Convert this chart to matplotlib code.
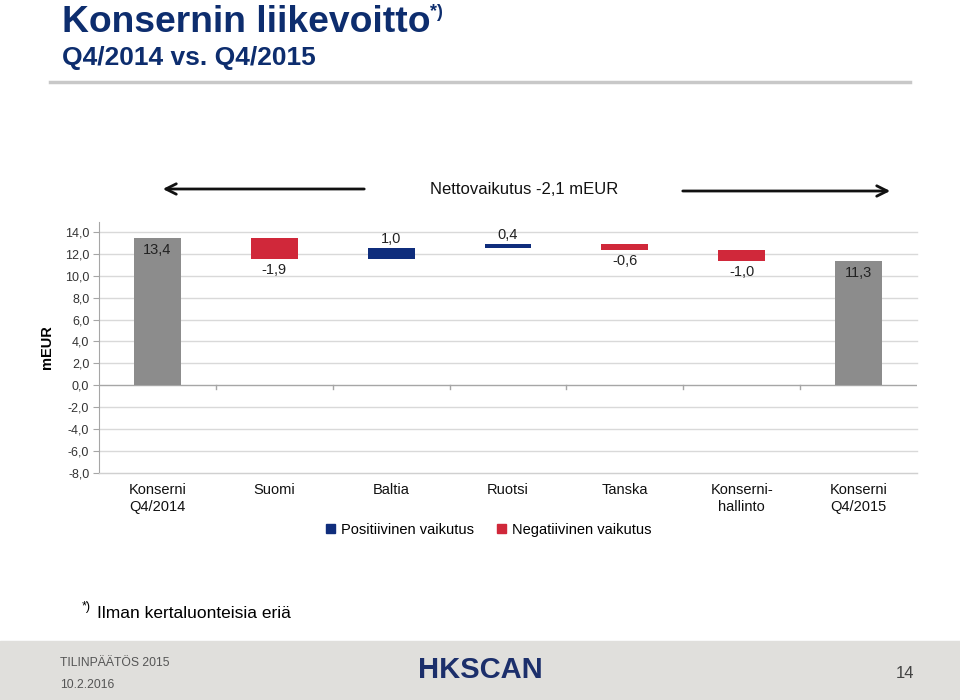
import matplotlib
matplotlib.use("Agg")
import matplotlib.pyplot as plt
from matplotlib.patches import Patch, Rectangle

plt.rcParams['font.family'] = ['Liberation Sans', 'DejaVu Sans']

# Data
categories = ['Konserni\nQ4/2014', 'Suomi', 'Baltia', 'Ruotsi', 'Tanska',
              'Konserni-\nhallinto', 'Konserni\nQ4/2015']
start_value = 13.4
changes = [-1.9, 1.0, 0.4, -0.6, -1.0]
end_value = 11.3
y_ticks = [-8, -6, -4, -2, 0, 2, 4, 6, 8, 10, 12, 14]

navy = '#0f2d7c'
red = '#d0283a'
grey = '#8c8c8c'
title_col = '#0d2d6e'

fig = plt.figure(figsize=(9.6, 7), dpi=100)

# Otsikot
fig.text(62 / 960, 1 - 32 / 700, 'Konsernin liikevoitto', fontsize=26.8, fontweight='bold',
         color=title_col, va='baseline', ha='left')
fig.text(430 / 960, 1 - 17 / 700, '*)', fontsize=13, fontweight='bold',
         color=title_col, va='baseline', ha='left')
fig.text(62 / 960, 1 - 65 / 700, 'Q4/2014 vs. Q4/2015', fontsize=19, fontweight='bold',
         color=title_col, va='baseline', ha='left')
fig.add_artist(plt.Line2D([50 / 960, 910 / 960], [1 - 82 / 700, 1 - 82 / 700],
                          color='#c8c8c8', lw=2.5))

# Nettovaikutus ja nuolet
fig.text(524 / 960, 1 - 190 / 700, 'Nettovaikutus -2,1 mEUR', fontsize=12,
         ha='center', va='center', color='#111111')
fig.add_artist(matplotlib.patches.FancyArrowPatch(
    (367 / 960, 1 - 189 / 700), (160 / 960, 1 - 189 / 700), transform=fig.transFigure,
    arrowstyle='->,head_length=5,head_width=2.5', mutation_scale=1.5, color='#111111', lw=2))
fig.add_artist(matplotlib.patches.FancyArrowPatch(
    (680 / 960, 1 - 191 / 700), (893 / 960, 1 - 191 / 700), transform=fig.transFigure,
    arrowstyle='->,head_length=5,head_width=2.5', mutation_scale=1.5, color='#111111', lw=2))

# Vesiputouskaavio
ax = fig.add_axes([99 / 960, 1 - 473 / 700, 818 / 960, (473 - 222) / 700])

bottoms = [0]
heights = [start_value]
colors = [grey]
level = start_value
for c in changes:
    new_level = level + c
    bottoms.append(min(level, new_level))
    heights.append(abs(c))
    colors.append(navy if c > 0 else red)
    level = new_level
bottoms.append(0)
heights.append(end_value)
colors.append(grey)

x = range(len(categories))
ax.bar(x, heights, bottom=bottoms, width=0.4, color=colors, zorder=3)

values = [start_value] + changes + [end_value]
for i, v in enumerate(values):
    txt = f'{v:.1f}'.replace('.', ',')
    top = bottoms[i] + heights[i]
    if i == 0 or i == len(values) - 1:
        ax.text(i, top - 0.45, txt, ha='center', va='top', fontsize=10.5, color='#222222', zorder=4)
    elif v > 0:
        ax.text(i, top + 0.2, txt, ha='center', va='bottom', fontsize=10.5, color='#222222')
    else:
        ax.text(i, bottoms[i] - 0.35, txt, ha='center', va='top', fontsize=10.5, color='#222222')

ax.set_xlim(-0.5, len(categories) - 0.5)
ax.set_ylim(-8, 14.9)
ax.set_yticks(y_ticks)
ax.set_yticklabels([f'{t:.1f}'.replace('.', ',') for t in y_ticks], fontsize=9, color='#333333')
for t in y_ticks:
    if t != 0:
        ax.axhline(t, color='#d9d9d9', lw=1, zorder=1, clip_on=False)
ax.axhline(0, color='#a6a6a6', lw=1, zorder=2)
for b in range(1, len(categories)):
    ax.plot([b - 0.5, b - 0.5], [0, -0.35], color='#a6a6a6', lw=1, zorder=2, clip_on=False)

ax.set_xticks(list(x))
ax.set_xticklabels(categories, fontsize=10.5, color='#111111', linespacing=1.3)
ax.tick_params(axis='x', length=0, pad=7)
ax.tick_params(axis='y', length=4, color='#a6a6a6', pad=3)
for s in ['top', 'right']:
    ax.spines[s].set_visible(False)
ax.spines['bottom'].set_color('#d0d0d0')
ax.spines['left'].set_color('#a6a6a6')
ax.set_ylabel('mEUR', fontsize=10.5, fontweight='bold', labelpad=8)

# Selite
handles = [Patch(color=navy, label='Positiivinen vaikutus'),
           Patch(color=red, label='Negatiivinen vaikutus')]
fig.legend(handles=handles, loc='center', bbox_to_anchor=(489 / 960, 1 - 530 / 700),
           ncol=2, frameon=False, fontsize=10.5, handlelength=0.6, handleheight=0.6,
           handletextpad=0.4, columnspacing=1.6)

# Alaviite
fig.text(82 / 960, 1 - 607 / 700, '*)', fontsize=9, va='center', ha='left')
fig.text(97 / 960, 1 - 613 / 700, 'Ilman kertaluonteisia eriä', fontsize=12.5, va='center', ha='left')

# Alapalkki
fig.add_artist(Rectangle((0, 0), 1, 59 / 700, transform=fig.transFigure,
                         color='#e0dfdc', zorder=0))
fig.text(60 / 960, 1 - 663 / 700, 'TILINPÄÄTÖS 2015', fontsize=8.7, color='#555555', va='center')
fig.text(60 / 960, 1 - 685 / 700, '10.2.2016', fontsize=8.7, color='#555555', va='center')
fig.text(480 / 960, 1 - 670 / 700, 'HKSCAN', fontsize=21, fontweight='bold',
         color='#1c2f6b', ha='center', va='center')
fig.text(905 / 960, 1 - 673 / 700, '14', fontsize=12, color='#444444', ha='center', va='center')

fig.savefig('out.png', dpi=100)
